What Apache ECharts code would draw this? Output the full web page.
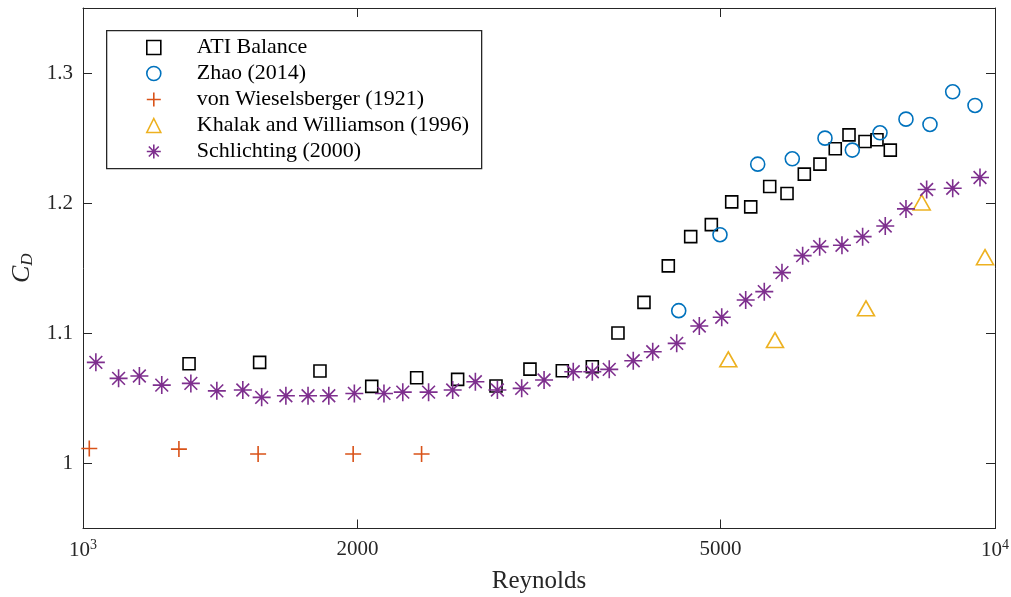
<!DOCTYPE html>
<html>
<head>
<meta charset="utf-8">
<script src="https://cdn.jsdelivr.net/npm/echarts@6/dist/echarts.min.js"></script>
<style>html,body{margin:0;padding:0;background:#fff}#c{width:1011px;height:597px}</style>
</head>
<body>
<div id="c"></div>
<script>
// ---- data ----
const xTicks = [1000, 2000, 5000, 10000];
const yTicks = [1.0, 1.1, 1.2, 1.3];

const atiRe = [1307, 1562, 1819, 2073, 2322, 2575, 2837, 3091, 3354, 3618, 3860, 4122, 4383, 4638, 4886, 5144, 5397, 5662, 5915, 6179, 6428, 6681, 6917, 7202, 7423, 7677];
const atiCd = [1.0766, 1.0777, 1.0710, 1.0592, 1.0658, 1.0646, 1.0595, 1.0725, 1.0712, 1.0743, 1.1002, 1.1238, 1.1518, 1.1743, 1.1835, 1.2010, 1.1972, 1.2128, 1.2074, 1.2223, 1.2300, 1.2418, 1.2525, 1.2474, 1.2487, 1.2408];

const zhaoRe = [4500, 4994, 5493, 5994, 6510, 6975, 7480, 7987, 8486, 8987, 9508];
const zhaoCd = [1.1174, 1.1758, 1.2300, 1.2341, 1.2500, 1.2408, 1.2541, 1.2646, 1.2605, 1.2856, 1.2751];

const wiesRe = [1016, 1274, 1556, 1978, 2351];
const wiesCd = [1.0115, 1.0110, 1.0072, 1.0072, 1.0072];

const khalakRe = [5100, 5738, 7220, 8311, 9751];
const khalakCd = [1.0800, 1.0948, 1.1192, 1.2005, 1.1585];

const schRe = [1033, 1094, 1153, 1220, 1313, 1402, 1497, 1570, 1669, 1765, 1860, 1984, 2138, 2242, 2393, 2543, 2693, 2847, 3027, 3203, 3448, 3618, 3776, 4012, 4214, 4477, 4740, 5016, 5329, 5585, 5840, 6153, 6423, 6795, 7159, 7580, 7987, 8415, 8987, 9628];
const schCd = [1.0777, 1.0654, 1.0672, 1.0602, 1.0615, 1.0558, 1.0564, 1.0508, 1.0520, 1.0520, 1.0520, 1.0538, 1.0538, 1.0548, 1.0548, 1.0564, 1.0628, 1.0564, 1.0577, 1.0641, 1.0705, 1.0705, 1.0723, 1.0789, 1.0858, 1.0923, 1.1056, 1.1123, 1.1256, 1.1320, 1.1466, 1.1597, 1.1666, 1.1677, 1.1743, 1.1825, 1.1956, 1.2105, 1.2115, 1.2197];

const seriesNames = ['ATI Balance', 'Zhao (2014)', 'von Wieselsberger (1921)', 'Khalak and Williamson (1996)', 'Schlichting (2000)'];

// ---- chart ----
const FONT = 'Liberation Serif';
const AX = '#262626';
const zip = (a, b) => a.map((v, i) => [v, b[i]]);
const PLUS = 'path://M5,0L5,10M0,5L10,5';
const STAR = 'path://M5,0L5,10M0,5L10,5M1.46,1.46L8.54,8.54M8.54,1.46L1.46,8.54';

function mk(name, re, cd, symbol, size, color) {
  return {
    name, type: 'scatter', data: zip(re, cd),
    symbol, symbolSize: size,
    itemStyle: { color: 'transparent', borderColor: color, borderWidth: 1.6, opacity: 1 },
    emphasis: { disabled: true },
    xAxisIndex: 0, yAxisIndex: 0, z: 3
  };
}

const chart = echarts.init(document.getElementById('c'), null, { renderer: 'canvas' });
const tickCommon = { show: true, inside: true, length: 9, lineStyle: { color: AX, width: 1 } };
chart.setOption({
  animation: false,
  backgroundColor: '#fff',
  grid: { left: 83, right: 16, top: 8, bottom: 68.5, containLabel: false, outerBoundsMode: 'none' },
  graphic: [{
    type: 'rect', left: 106, top: 30, z: 1,
    shape: { width: 375, height: 138 },
    style: { fill: '#fff', stroke: AX, lineWidth: 1.3 }
  }],
  legend: {
    orient: 'vertical', left: 146, top: 36.5, padding: 0,
    itemWidth: 14, itemHeight: 14, itemGap: 4, z: 5,
    data: seriesNames,
    itemStyle: { borderWidth: 1.6 },
    textStyle: { fontFamily: FONT, fontSize: 22, color: '#000', lineHeight: 22, padding: [0, 0, 0, 31] },
    selectedMode: false
  },
  xAxis: [{
    type: 'log', logBase: 10, min: 1000, max: 10000, position: 'bottom',
    name: 'Reynolds', nameLocation: 'middle', nameGap: 40,
    nameTextStyle: { fontFamily: FONT, fontSize: 25, color: AX },
    axisLine: { show: true, onZero: false, lineStyle: { color: AX, width: 1 } },
    axisTick: Object.assign({ customValues: xTicks }, tickCommon),
    minorTick: { show: false },
    splitLine: { show: false },
    axisLabel: {
      customValues: xTicks, margin: 10, color: AX, fontFamily: FONT, fontSize: 21,
      formatter: v => v === 1000 ? '{t|10}{s|3}' : (v === 10000 ? '{t|10}{s|4}' : String(v)),
      rich: {
        t: { fontFamily: FONT, fontSize: 21, color: AX },
        s: { fontFamily: FONT, fontSize: 14, color: AX, padding: [0, 0, 10, 0] }
      }
    }
  }, {
    type: 'log', logBase: 10, min: 1000, max: 10000, position: 'top',
    axisLine: { show: true, onZero: false, lineStyle: { color: AX, width: 1 } },
    axisTick: Object.assign({ customValues: xTicks }, tickCommon),
    minorTick: { show: false },
    splitLine: { show: false },
    axisLabel: { show: false }
  }],
  yAxis: [{
    type: 'value', min: 0.95, max: 1.35, position: 'left',
    name: '{c|C}{d|D}', nameLocation: 'middle', nameGap: 47, nameRotate: 90,
    nameTextStyle: {
      rich: {
        c: { fontFamily: FONT, fontSize: 26, fontStyle: 'italic', color: AX },
        d: { fontFamily: FONT, fontSize: 17, fontStyle: 'italic', color: AX, padding: [10, 0, 0, 0] }
      }
    },
    axisLine: { show: true, onZero: false, lineStyle: { color: AX, width: 1 } },
    axisTick: Object.assign({ customValues: yTicks }, tickCommon),
    splitLine: { show: false },
    axisLabel: {
      customValues: yTicks, margin: 10, color: AX, fontFamily: FONT, fontSize: 21,
      formatter: v => String(Math.round(v * 10) / 10)
    }
  }, {
    type: 'value', min: 0.95, max: 1.35, position: 'right',
    axisLine: { show: true, onZero: false, lineStyle: { color: AX, width: 1 } },
    axisTick: Object.assign({ customValues: yTicks }, tickCommon),
    splitLine: { show: false },
    axisLabel: { show: false }
  }],
  series: [
    mk(seriesNames[0], atiRe, atiCd, 'rect', 12, '#000000'),
    mk(seriesNames[1], zhaoRe, zhaoCd, 'circle', 14, '#0072BD'),
    mk(seriesNames[2], wiesRe, wiesCd, PLUS, 16, '#D95319'),
    mk(seriesNames[3], khalakRe, khalakCd, 'triangle', [17, 15], '#EDB120'),
    mk(seriesNames[4], schRe, schCd, STAR, 18, '#7E2F8E')
  ]
});
</script>
</body>
</html>
